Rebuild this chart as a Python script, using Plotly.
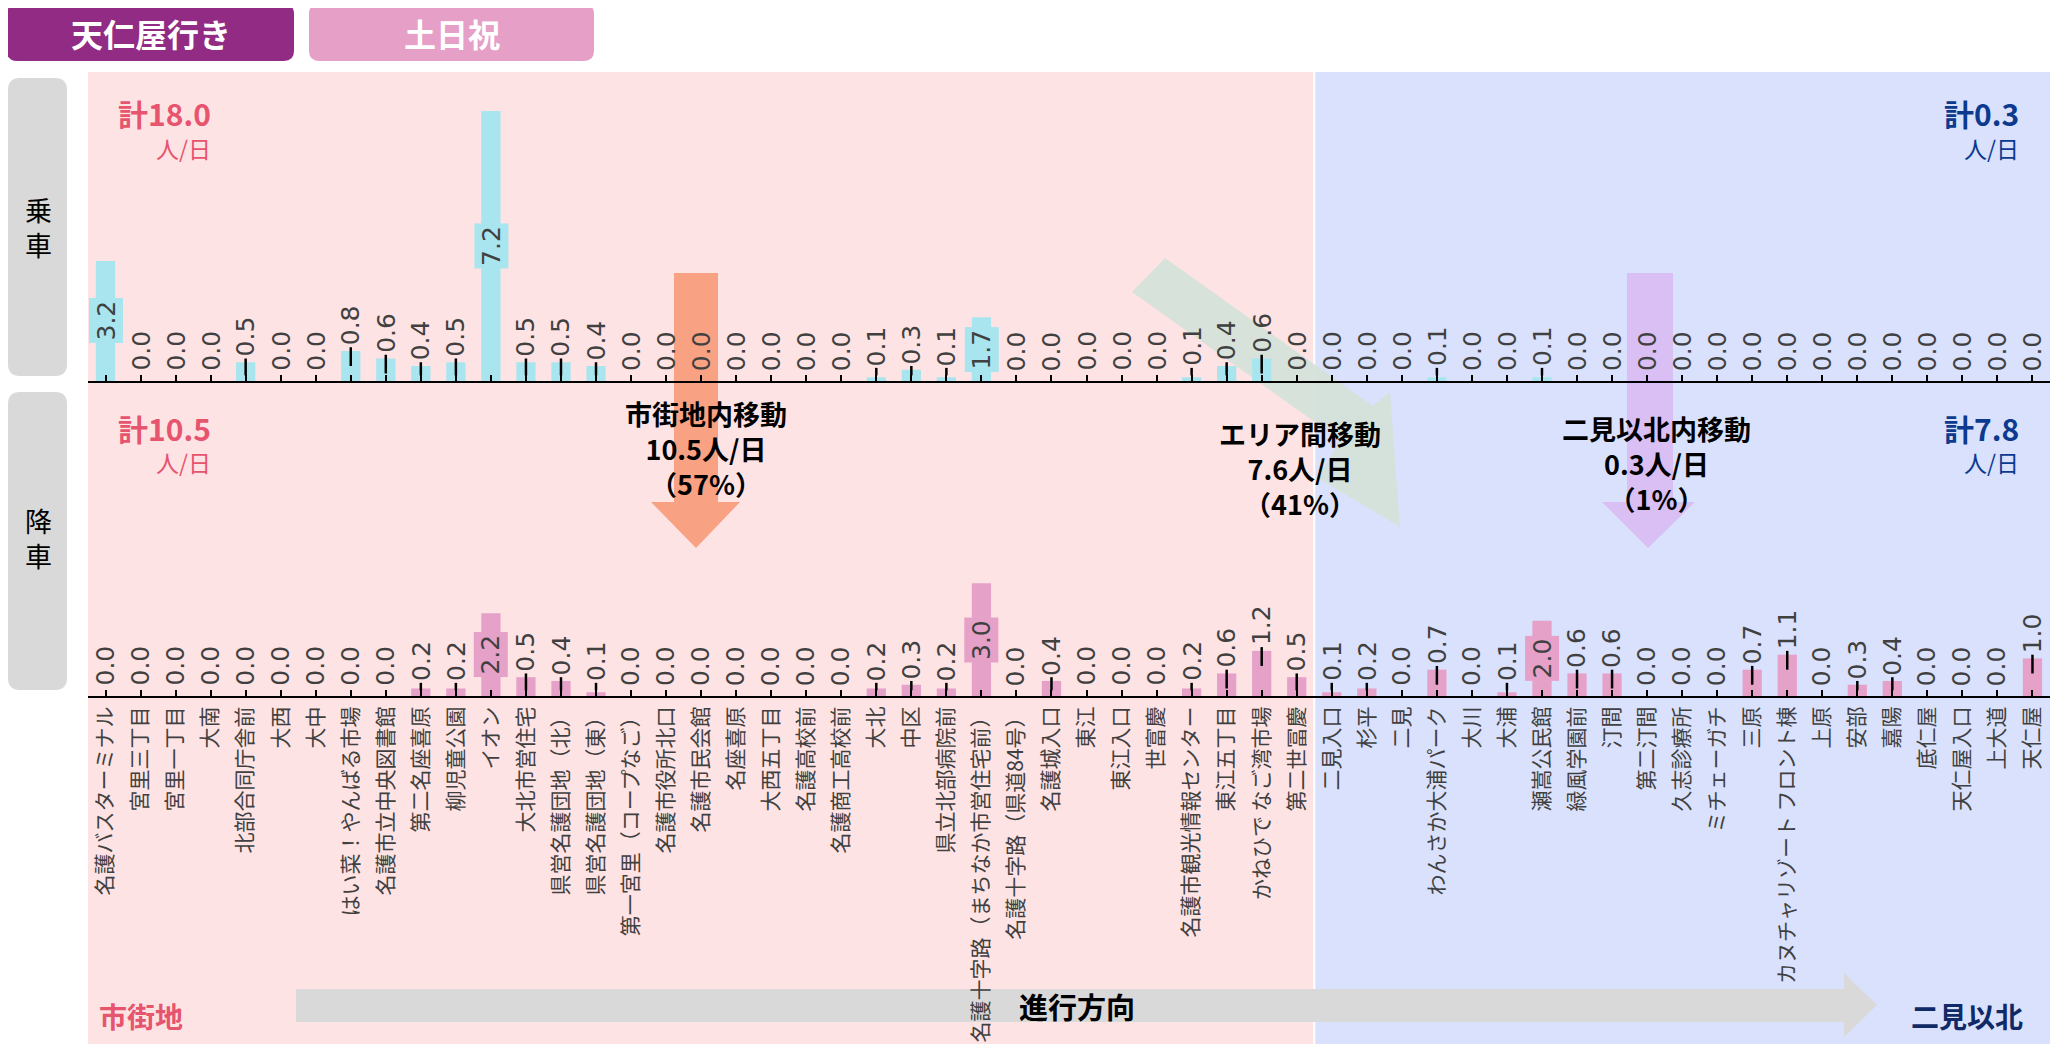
import plotly.graph_objects as go

# ---------------- data ----------------
stations = [
    "名護バスターミナル", "宮里三丁目", "宮里一丁目", "大南", "北部合同庁舎前", "大西", "大中",
    "はい菜！やんばる市場", "名護市立中央図書館", "第二名座喜原", "柳児童公園", "イオン", "大北市営住宅",
    "県営名護団地（北）", "県営名護団地（東）", "第一宮里（コープなご）", "名護市役所北口", "名護市民会館",
    "名座喜原", "大西五丁目", "名護高校前", "名護商工高校前", "大北", "中区", "県立北部病院前",
    "名護十字路（まちなか市営住宅前）", "名護十字路（県道84号）", "名護城入口", "東江", "東江入口", "世富慶",
    "名護市観光情報センター", "東江五丁目", "かねひで なご湾市場", "第二世冨慶",
    "二見入口", "杉平", "二見", "わんさか大浦パーク", "大川", "大浦", "瀬嵩公民館", "緑風学園前", "汀間",
    "第二汀間", "久志診療所", "ミチェーガチ", "三原", "カヌチャリゾート フロント棟", "上原", "安部", "嘉陽",
    "底仁屋", "天仁屋入口", "上大道", "天仁屋",
]
n_city = 35  # stations in 市街地 (the rest are 二見以北)

boarding = [
    3.2, 0.0, 0.0, 0.0, 0.5, 0.0, 0.0, 0.8, 0.6, 0.4, 0.5, 7.2, 0.5, 0.5, 0.4, 0.0, 0.0, 0.0,
    0.0, 0.0, 0.0, 0.0, 0.1, 0.3, 0.1, 1.7, 0.0, 0.0, 0.0, 0.0, 0.0, 0.1, 0.4, 0.6, 0.0,
    0.0, 0.0, 0.0, 0.1, 0.0, 0.0, 0.1, 0.0, 0.0, 0.0, 0.0, 0.0, 0.0, 0.0, 0.0, 0.0, 0.0,
    0.0, 0.0, 0.0, 0.0,
]
alighting = [
    0.0, 0.0, 0.0, 0.0, 0.0, 0.0, 0.0, 0.0, 0.0, 0.2, 0.2, 2.2, 0.5, 0.4, 0.1, 0.0, 0.0, 0.0,
    0.0, 0.0, 0.0, 0.0, 0.2, 0.3, 0.2, 3.0, 0.0, 0.4, 0.0, 0.0, 0.0, 0.2, 0.6, 1.2, 0.5,
    0.1, 0.2, 0.0, 0.7, 0.0, 0.1, 2.0, 0.6, 0.6, 0.0, 0.0, 0.0, 0.7, 1.1, 0.0, 0.3, 0.4,
    0.0, 0.0, 0.0, 1.0,
]
board_totals = ["計18.0", "計0.3"]      # 市街地, 二見以北
alight_totals = ["計10.5", "計7.8"]
unit_text = "人/日"
flow_titles = ["市街地内移動", "エリア間移動", "二見以北内移動"]
flow_values = ["10.5人/日", "7.6人/日", "0.3人/日"]
flow_shares = ["（57%）", "（41%）", "（1%）"]
route_title = "天仁屋行き"
day_title = "土日祝"

# ---------------- style ----------------
OFF = 8                                  # page body margin of the html page
W, H = 2060 - 2 * OFF, 1053 - 2 * OFF    # figure size
L, R, T, B = 88, 2050, 72, 696           # plot area in page px
MID = 381                                # page px of the upper axis line
PX_PER_UNIT = 37.5

PINK_BG = "#FEE3E4"
BLUE_BG = "#D9E1FC"
CYAN = "#A9E5EF"
MAUVE = "#E6A1C9"
PINK_TXT = "#E6546E"
BLUE_TXT = "#0B3A8F"
NAVY_TXT = "#0F2A66"
LABEL_GRAY = "#404040"
JP = "Noto Sans CJK JP"


def pxp(x):
    return (x - L) / (R - L)


def pyp(y):
    return (B - y) / (B - T)


def P(x, y):
    return f"{pxp(x):.5f},{pyp(y):.5f}"


def poly(points):
    return "M" + " L".join(P(x, y) for x, y in points) + " Z"


def rrect(x0, y0, x1, y1, r):
    return (f"M{P(x0 + r, y0)} L{P(x1 - r, y0)} Q{P(x1, y0)} {P(x1, y0 + r)} "
            f"L{P(x1, y1 - r)} Q{P(x1, y1)} {P(x1 - r, y1)} L{P(x0 + r, y1)} "
            f"Q{P(x0, y1)} {P(x0, y1 - r)} L{P(x0, y0 + r)} Q{P(x0, y0)} {P(x0 + r, y0)} Z")


split = pyp(MID)
up_range = (MID - T) / PX_PER_UNIT
lo_range = (B - MID) / 37.6

fig = go.Figure()
fig.add_trace(go.Bar(x=stations, y=boarding, xaxis="x2", yaxis="y2", marker_color=CYAN,
                     marker_line_width=0, width=0.55, hoverinfo="skip"))
fig.add_trace(go.Bar(x=stations, y=alighting, xaxis="x", yaxis="y", marker_color=MAUVE,
                     marker_line_width=0, width=0.55, hoverinfo="skip"))

annotations = []
LABEL_FONT = dict(family="DejaVu Sans", size=25, color=LABEL_GRAY)


def value_labels(values, xa, ya, color):
    lx, ly = [], []
    for s, v in zip(stations, values):
        txt = f"{v:.1f}"
        if v >= 1.5:
            annotations.append(dict(x=s, y=v / 2, xref=xa, yref=ya, text=txt, textangle=-90,
                                    showarrow=False, bgcolor=color, borderpad=2,
                                    xanchor="center", yanchor="middle", font=LABEL_FONT))
            continue
        if v > 0:
            top = max(v, 0.25) + 0.1
            lx += [s, s, None]
            ly += [max(v - 0.4, 0.15), top, None]
            base = top + 0.02
        else:
            base = 0.24
        annotations.append(dict(x=s, y=base, xref=xa, yref=ya, text=txt, textangle=-90,
                                showarrow=False, xanchor="center", yanchor="bottom", borderpad=0,
                                font=LABEL_FONT))
    return lx, ly


lx, ly = value_labels(boarding, "x2", "y2", CYAN)
fig.add_trace(go.Scatter(x=lx, y=ly, xaxis="x2", yaxis="y2", mode="lines",
                         line=dict(color="black", width=2.5), hoverinfo="skip"))
lx, ly = value_labels(alighting, "x", "y", MAUVE)
fig.add_trace(go.Scatter(x=lx, y=ly, xaxis="x", yaxis="y", mode="lines",
                         line=dict(color="black", width=2.5), hoverinfo="skip"))

# ---------------- shapes ----------------
split_x = n_city / len(stations)
shapes = [
    dict(type="rect", xref="paper", yref="paper", x0=0, x1=split_x, y0=pyp(1044), y1=1,
         fillcolor=PINK_BG, line_width=0, layer="below"),
    dict(type="rect", xref="paper", yref="paper", x0=split_x, x1=1, y0=pyp(1044), y1=1,
         fillcolor=BLUE_BG, line_width=0, layer="below"),
    dict(type="line", xref="paper", yref="paper", x0=split_x, x1=split_x, y0=pyp(1044), y1=1,
         line=dict(color="white", width=2), layer="below"),
    # flow arrows
    dict(type="path", xref="paper", yref="paper", layer="below", line_width=0, fillcolor="#F8A183",
         path=poly([(674, 273), (718, 273), (718, 502), (740, 502), (696, 548), (651, 502), (674, 502)])),
    dict(type="path", xref="paper", yref="paper", layer="below", line_width=0, fillcolor="#D9BFF3",
         path=poly([(1627, 273), (1673, 273), (1673, 502), (1695, 502), (1648, 548), (1602, 502), (1627, 502)])),
    dict(type="path", xref="paper", yref="paper", layer="below", line_width=0, fillcolor="#D5E1DA",
         opacity=0.95,
         path=poly([(1132, 292), (1165, 258), (1373, 406), (1390, 392), (1400, 527), (1318, 478), (1340, 440)])),
    # direction arrow
    dict(type="path", xref="paper", yref="paper", layer="below", line_width=0, fillcolor="#D9D9D9",
         path=poly([(296, 989), (1844, 989), (1844, 973), (1877, 1005), (1844, 1037), (1844, 1022), (296, 1022)])),
    # side boxes
    dict(type="path", xref="paper", yref="paper", layer="below", line_width=0, fillcolor="#D9D9D9",
         path=rrect(8, 78, 67, 376, 12)),
    dict(type="path", xref="paper", yref="paper", layer="below", line_width=0, fillcolor="#D9D9D9",
         path=rrect(8, 392, 67, 690, 12)),
    # header boxes
    dict(type="path", xref="paper", yref="paper", layer="below", line_width=0, fillcolor="#922B83",
         path=rrect(7, 4, 294, 61, 10)),
    dict(type="path", xref="paper", yref="paper", layer="below", line_width=0, fillcolor="#E6A0C8",
         path=rrect(309, 4, 594, 61, 10)),
]


def txt(x, y, text, size, color, bold=False, xanchor="center", yanchor="middle", family=JP):
    annotations.append(dict(x=pxp(x), y=pyp(y), xref="paper", yref="paper", text=text,
                            showarrow=False, xanchor=xanchor, yanchor=yanchor,
                            font=dict(family=family, size=size, color=color,
                                      weight="bold" if bold else "normal")))


txt(151, 33, route_title, 32, "white", bold=True)
txt(452, 33, day_title, 32, "white", bold=True)
txt(38, 227, "乗<br>車", 27, "black")
txt(38, 538, "降<br>車", 27, "black")

txt(213, 113, board_totals[0], 30, PINK_TXT, bold=True, xanchor="right")
txt(213, 148, unit_text, 23, PINK_TXT, xanchor="right")
txt(213, 428, alight_totals[0], 30, PINK_TXT, bold=True, xanchor="right")
txt(213, 462, unit_text, 23, PINK_TXT, xanchor="right")
txt(2021, 113, board_totals[1], 30, BLUE_TXT, bold=True, xanchor="right")
txt(2021, 148, unit_text, 23, BLUE_TXT, xanchor="right")
txt(2021, 428, alight_totals[1], 30, BLUE_TXT, bold=True, xanchor="right")
txt(2021, 462, unit_text, 23, BLUE_TXT, xanchor="right")

for (cx, cy), t, v, s in zip([(706, 448), (1300, 468), (1656, 463)], flow_titles, flow_values, flow_shares):
    txt(cx, cy, f"{t}<br>{v}<br>{s}", 27, "black", bold=True)

txt(1077, 1006, "進行方向", 29, "black", bold=True)
txt(97, 1016, "市街地", 28, PINK_TXT, bold=True, xanchor="left")
txt(2025, 1016, "二見以北", 28, NAVY_TXT, bold=True, xanchor="right")

xaxis_common = dict(type="category", categoryorder="array", categoryarray=stations,
                    range=[-0.5, len(stations) - 0.5], showline=True, linecolor="black", linewidth=2,
                    ticks="inside", ticklen=6, tickwidth=2, tickcolor="black", showgrid=False,
                    zeroline=False, automargin=False, fixedrange=True)

fig.update_layout(
    width=W, height=H,
    margin=dict(l=L - OFF, r=(W + OFF) - R, t=T - OFF, b=(H + OFF) - B, pad=0),
    paper_bgcolor="white", plot_bgcolor="rgba(0,0,0,0)",
    showlegend=False,
    font=dict(family=JP),
    xaxis=dict(**xaxis_common, anchor="y", domain=[0, 1], tickangle=-90,
               tickfont=dict(family=JP, size=21, color=LABEL_GRAY)),
    xaxis2=dict(**xaxis_common, anchor="y2", domain=[0, 1], matches="x", showticklabels=False),
    yaxis=dict(domain=[0, split], range=[0, lo_range], visible=False, fixedrange=True),
    yaxis2=dict(domain=[split, 1], range=[0, up_range], visible=False, fixedrange=True),
    shapes=shapes,
    annotations=annotations,
)

fig.write_html("out.html")
